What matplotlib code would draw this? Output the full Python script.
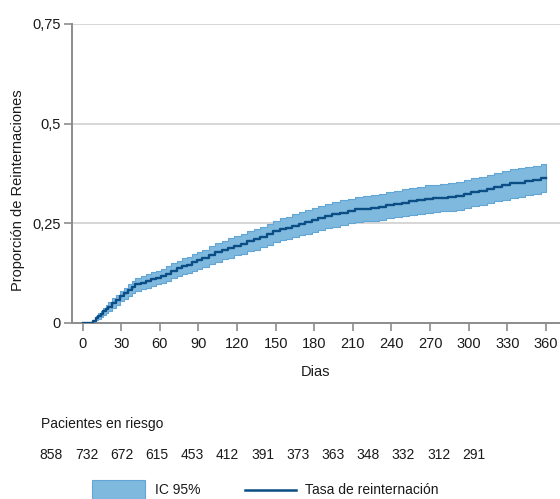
import matplotlib
matplotlib.use('Agg')
import matplotlib.pyplot as plt
from matplotlib.lines import Line2D
from matplotlib.patches import Rectangle

plt.rcParams['font.family'] = ['Liberation Sans', 'DejaVu Sans']

# datos
dias = [0, 8, 10, 12, 14, 16, 18, 20, 23, 26, 29, 32, 35, 38, 41, 45, 49, 53, 57, 61,
        65, 69, 73, 77, 81, 85, 89, 93, 98, 103, 108, 113, 118, 123, 128, 133, 138, 143,
        148, 153, 158, 163, 168, 173, 178, 183, 188, 194, 200, 206, 212, 218, 224, 230,
        236, 242, 248, 254, 260, 266, 272, 278, 284, 290, 296, 302, 308, 314, 320, 326,
        332, 338, 344, 350, 356, 360]
tasa = [0, 0.004, 0.012, 0.018, 0.023, 0.029, 0.035, 0.041, 0.050, 0.058, 0.067, 0.074,
        0.083, 0.091, 0.097, 0.101, 0.105, 0.110, 0.114, 0.118, 0.124, 0.131, 0.137, 0.142,
        0.146, 0.152, 0.157, 0.162, 0.170, 0.177, 0.183, 0.188, 0.194, 0.198, 0.205, 0.210,
        0.216, 0.222, 0.230, 0.235, 0.239, 0.244, 0.249, 0.253, 0.258, 0.263, 0.268, 0.273,
        0.277, 0.281, 0.285, 0.287, 0.288, 0.290, 0.296, 0.299, 0.302, 0.305, 0.308, 0.311,
        0.313, 0.314, 0.316, 0.319, 0.323, 0.328, 0.331, 0.336, 0.341, 0.345, 0.350, 0.352,
        0.356, 0.359, 0.364, 0.364]
ic_inf = [0, 0.002, 0.007, 0.011, 0.015, 0.020, 0.025, 0.030, 0.038, 0.045, 0.054, 0.060,
          0.068, 0.076, 0.081, 0.085, 0.088, 0.093, 0.097, 0.100, 0.106, 0.112, 0.118, 0.122,
          0.126, 0.131, 0.136, 0.140, 0.148, 0.154, 0.160, 0.164, 0.170, 0.173, 0.180, 0.184,
          0.190, 0.195, 0.203, 0.207, 0.211, 0.215, 0.220, 0.223, 0.228, 0.233, 0.238, 0.242,
          0.246, 0.250, 0.253, 0.255, 0.256, 0.258, 0.263, 0.266, 0.268, 0.271, 0.274, 0.277,
          0.279, 0.280, 0.282, 0.284, 0.288, 0.293, 0.296, 0.300, 0.305, 0.309, 0.314, 0.316,
          0.320, 0.323, 0.328, 0.328]
ic_sup = [0, 0.006, 0.017, 0.025, 0.031, 0.038, 0.045, 0.052, 0.062, 0.071, 0.080, 0.088,
          0.098, 0.106, 0.113, 0.117, 0.122, 0.127, 0.131, 0.136, 0.142, 0.150, 0.156, 0.162,
          0.166, 0.173, 0.178, 0.184, 0.192, 0.200, 0.206, 0.212, 0.218, 0.223, 0.230, 0.236,
          0.242, 0.249, 0.257, 0.263, 0.267, 0.273, 0.278, 0.283, 0.288, 0.293, 0.299, 0.304,
          0.308, 0.312, 0.317, 0.319, 0.320, 0.323, 0.329, 0.332, 0.336, 0.339, 0.342, 0.345,
          0.347, 0.348, 0.350, 0.354, 0.358, 0.363, 0.366, 0.372, 0.377, 0.381, 0.386, 0.388,
          0.392, 0.395, 0.400, 0.400]

xticks = list(range(0, 361, 30))
yticks = [0, 0.25, 0.5, 0.75]
ylabels = ['0', '0,25', '0,5', '0,75']
en_riesgo = [858, 732, 672, 615, 453, 412, 391, 373, 363, 348, 332, 312, 291]

fill_c = '#80b9de'
edge_c = '#62a6d6'
line_c = '#0b4d85'
gris = '#8c8c8c'
txt_c = '#1a1a1a'

fig = plt.figure(figsize=(5.6, 4.99), dpi=100)
ax = fig.add_axes([72/560, 1 - 323/499, 1 - 72/560, (323 - 24)/499])

for y in yticks[1:]:
    ax.axhline(y, color='#cfcfcf', lw=1.2, zorder=0)

ax.fill_between(dias, ic_inf, ic_sup, step='post', facecolor=fill_c,
                edgecolor=edge_c, lw=0.8, zorder=2)
ax.step(dias, tasa, where='post', color=line_c, lw=1.7, zorder=3)

ax.set_xlim(-8.3, 371)
ax.set_ylim(0, 0.75)
ax.set_xticks(xticks)
ax.set_xticklabels([str(t) for t in xticks])
ax.set_yticks(yticks)
ax.set_yticklabels(ylabels)
ax.tick_params(axis='both', colors=gris, labelcolor=txt_c, labelsize=10.5,
               length=6, width=1.2)
ax.tick_params(axis='x', pad=4)
ax.tick_params(axis='y', pad=2)

for s in ['top', 'right']:
    ax.spines[s].set_visible(False)
for s in ['left', 'bottom']:
    ax.spines[s].set_color(gris)
    ax.spines[s].set_linewidth(1.4)

fig.text(18/560, 1 - 190/499, 'Proporción de Reinternaciones', rotation=90,
         ha='center', va='center', fontsize=10.5, color=txt_c)
fig.text(315/560, 1 - 372/499, 'Dias', ha='center', va='center', fontsize=10.5,
         color=txt_c)

# pacientes en riesgo
fig.text(41/560, 1 - 424/499, 'Pacientes en riesgo', ha='left', va='center',
         fontsize=10, color=txt_c)
for i, n in enumerate(en_riesgo):
    fig.text((51.5 + i * 35.2)/560, 1 - 455/499, str(n), ha='center', va='center',
             fontsize=10, color=txt_c)

# leyenda
fig.patches.append(Rectangle((92/560, 0), 53/560, 19/499, transform=fig.transFigure,
                             facecolor=fill_c, edgecolor=edge_c, lw=0.8))
fig.text(155/560, 1 - 490/499, 'IC 95%', ha='left', va='center', fontsize=10,
         color=txt_c)
fig.lines.append(Line2D([245/560, 296/560], [1 - 490/499, 1 - 490/499],
                        transform=fig.transFigure, color=line_c, lw=1.8))
fig.text(305/560, 1 - 490/499, 'Tasa de reinternación', ha='left', va='center',
         fontsize=10, color=txt_c)

fig.savefig('out.png', dpi=100)
